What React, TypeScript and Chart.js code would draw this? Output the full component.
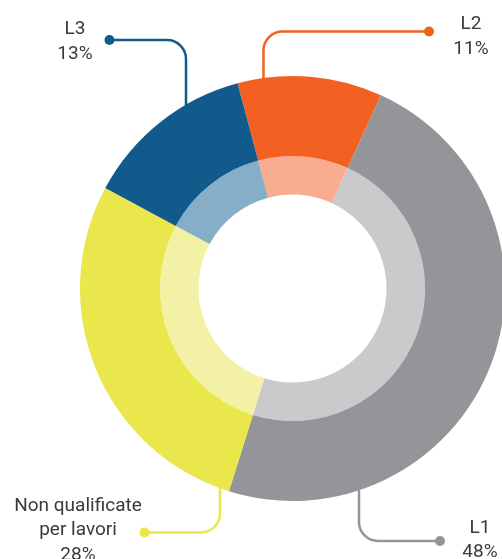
import React, { useEffect, useRef } from "react";
import { Chart, registerables } from "chart.js";

Chart.register(...registerables);

// ---- data ----
const categories = ["L2", "L1", "Non qualificate per lavori", "L3"];
const categoryLines = [["L2"], ["L1"], ["Non qualificate", "per lavori"], ["L3"]];
const shares = [11, 48, 28, 13];
const outerColors = ["#F26122", "#939598", "#E9E74B", "#135A8C"];
const innerColors = ["#F9AC8F", "#C9CACC", "#F2F1A6", "#86AEC6"];

// ---- callout layout (positions only) ----
const callouts = [
  { dotX: 429, dotY: 31.5, legX: 263.5, textX: 471, baseY: 29 },
  { dotX: 440, dotY: 541, legX: 359, textX: 480, baseY: 532.5 },
  { dotX: 144.5, dotY: 532.5, legX: 220, textX: 78, baseY: 510.5 },
  { dotX: 109.5, dotY: 40, legX: 186, textX: 75, baseY: 34 },
];

const calloutPlugin = {
  id: "callouts",
  beforeDatasetsDraw(chart: any) {
    const ctx = chart.ctx;
    const meta = chart.getDatasetMeta(0);
    ctx.save();
    meta.data.forEach((arc: any, i: number) => {
      const c = callouts[i];
      const cx = arc.x, cy = arc.y, R = arc.outerRadius;
      const dx = c.legX - cx;
      const h = Math.sqrt(Math.max(R * R - dx * dx, 0));
      const up = c.dotY < cy;
      const yEdge = up ? cy - h + 4 : cy + h - 4;
      const r = 19;
      const dir = c.legX > c.dotX ? 1 : -1;
      ctx.strokeStyle = outerColors[i];
      ctx.lineWidth = 2.5;
      ctx.beginPath();
      ctx.moveTo(c.dotX, c.dotY);
      ctx.lineTo(c.legX - dir * r, c.dotY);
      ctx.arcTo(c.legX, c.dotY, c.legX, c.dotY + (up ? r : -r), r);
      ctx.lineTo(c.legX, yEdge);
      ctx.stroke();
      ctx.fillStyle = outerColors[i];
      ctx.beginPath();
      ctx.arc(c.dotX, c.dotY, 5, 0, Math.PI * 2);
      ctx.fill();
    });
    ctx.restore();
  },
  afterDatasetsDraw(chart: any) {
    const ctx = chart.ctx;
    ctx.save();
    ctx.fillStyle = "#3a3a3a";
    ctx.font = "400 19px Roboto";
    ctx.textAlign = "center";
    ctx.textBaseline = "alphabetic";
    categories.forEach((_, i) => {
      const c = callouts[i];
      const lines = [...categoryLines[i], shares[i] + "%"];
      lines.forEach((t, j) => ctx.fillText(t, c.textX, c.baseY + j * 24.5));
    });
    ctx.restore();
  },
};

export default function App() {
  const ref = useRef<HTMLCanvasElement>(null);
  useEffect(() => {
    if (!ref.current) return;
    const chart = new Chart(ref.current, {
      type: "doughnut",
      data: {
        labels: categories,
        datasets: [
          {
            data: shares,
            backgroundColor: outerColors,
            borderWidth: 0,
            hoverOffset: 0,
            weight: 80,
          } as any,
          {
            data: shares,
            backgroundColor: innerColors,
            borderWidth: 0,
            hoverOffset: 0,
            weight: 38.5,
          } as any,
        ],
      },
      options: {
        responsive: false,
        animation: false,
        rotation: -15,
        cutout: 94,
        layout: { padding: { left: 80, right: 15, top: 76, bottom: 58 } },
        plugins: { legend: { display: false }, tooltip: { enabled: false } },
        events: [],
      } as any,
      plugins: [calloutPlugin],
    });
    return () => chart.destroy();
  }, []);
  return (
    <div
      style={{
        position: "fixed",
        left: 0,
        top: 0,
        width: 502,
        height: 559,
        overflow: "hidden",
        background: "#fff",
      }}
    >
      <canvas ref={ref} width={520} height={559} style={{ display: "block" }} />
    </div>
  );
}
